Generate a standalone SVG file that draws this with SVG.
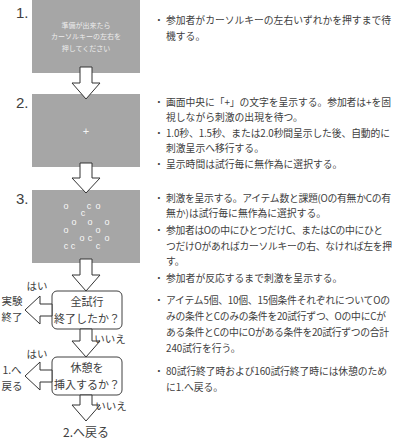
<svg xmlns="http://www.w3.org/2000/svg" width="400" height="440" viewBox="0 0 400 440">
<style>
.scr{fill:#a6a6a6}
.st{font-family:"Noto Sans CJK JP",sans-serif;font-size:7px;fill:#ececec;text-anchor:middle}
.stim{font-family:"Liberation Sans",sans-serif;font-size:9px;fill:#f8f8f8;text-anchor:middle}
.num{font-family:"Liberation Sans",sans-serif;font-size:15px;fill:#404040}
.dec{fill:#fff;stroke:#404040;stroke-width:1}
.dt{font-family:"Noto Sans CJK JP",sans-serif;font-size:11px;fill:#404040;text-anchor:middle}
.lab{font-family:"Noto Sans CJK JP",sans-serif;font-size:10.5px;fill:#404040;text-anchor:middle}
.desc{font-family:"Noto Sans CJK JP",sans-serif;font-size:9.8px;fill:#404040}
.arr{fill:#fff;stroke:#333;stroke-width:1}
</style>
<g id="step1">
<rect class="scr" x="32" y="0" width="108" height="73"/>
<text class="num" x="16" y="18">1.</text>
<text class="st" x="86" y="28">準備が出来たら</text>
<text class="st" x="86" y="39">カーソルキーの左右を</text>
<text class="st" x="86" y="51">押してください</text>
</g>
<g id="step2">
<rect class="scr" x="32" y="94" width="108" height="73"/>
<text class="num" x="16" y="108">2.</text>
<text x="86" y="135" style="font-family:'Liberation Sans',sans-serif;font-size:11px;fill:#f4f4f4;text-anchor:middle">+</text>
</g>
<g id="step3">
<rect class="scr" x="32" y="190" width="108" height="73"/>
<text class="num" x="16" y="204">3.</text>
<g class="stim">
<text x="66" y="209">o</text><text x="89" y="209">c</text><text x="98" y="209">o</text>
<text x="83" y="216">c</text>
<text x="74" y="225">o</text><text x="90" y="225">o</text><text x="107" y="225">o</text>
<text x="66" y="233">o</text><text x="98" y="233">o</text>
<text x="82" y="241">o</text><text x="90" y="241">c</text><text x="107" y="241">o</text>
<text x="66" y="249">c</text><text x="73" y="249">c</text><text x="98" y="249">c</text>
</g>
</g>
<g id="decision1">
<rect class="dec" x="52" y="291" width="70" height="38" rx="5"/>
<text class="dt" x="87" y="306">全試行</text>
<text class="dt" x="87" y="323">終了したか？</text>
</g>
<g id="decision2">
<rect class="dec" x="52" y="357" width="70" height="38" rx="5"/>
<text class="dt" x="87" y="372">休憩を</text>
<text class="dt" x="87" y="389">挿入するか？</text>
</g>
<g id="connectors">
<polygon class="arr" points="80,67 92,67 92,83 100,83 86,99 72,83 80,83"/>
<polygon class="arr" points="80,163 92,163 92,178 100,178 86,193 72,178 80,178"/>
<polygon class="arr" points="80,259 92,259 92,275 100,275 86,291 72,275 80,275"/>
<polygon class="arr" points="80,329 92,329 92,341 100,341 86,357 72,341 80,341"/>
<polygon class="arr" points="80,395 92,395 92,405 100,405 86,421 72,405 80,405"/>
<polygon class="arr" points="52,304 52,316 40,316 40,324 25,310 40,296 40,304"/>
<polygon class="arr" points="52,370 52,382 40,382 40,390 25,376 40,362 40,370"/>
</g>
<g id="labels">
<text class="lab" x="37" y="290">はい</text>
<text class="lab" x="12" y="305">実験</text>
<text class="lab" x="12" y="321">終了</text>
<text class="lab" x="110" y="343">いいえ</text>
<text class="lab" x="37" y="358">はい</text>
<text class="lab" x="12" y="374">1.へ</text>
<text class="lab" x="12" y="390">戻る</text>
<text class="lab" x="111" y="410">いいえ</text>
<text x="86" y="437" style="font-family:'Noto Sans CJK JP',sans-serif;font-size:12px;fill:#404040;text-anchor:middle">2.へ戻る</text>
</g>
<g id="descriptions" class="desc">
<text x="154" y="24">・</text>
<text x="166" y="24" textLength="225" lengthAdjust="spacing">参加者がカーソルキーの左右いずれかを押すまで待</text>
<text x="166" y="40">機する。</text>
<text x="154" y="106">・</text>
<text x="166" y="106" textLength="225" lengthAdjust="spacing">画面中央に「+」の文字を呈示する。参加者は+を固</text>
<text x="166" y="121">視しながら刺激の出現を待つ。</text>
<text x="154" y="137">・</text>
<text x="166" y="137" textLength="224" lengthAdjust="spacing">1.0秒、1.5秒、または2.0秒間呈示した後、自動的に</text>
<text x="166" y="152">刺激呈示へ移行する。</text>
<text x="154" y="168">・</text>
<text x="166" y="168">呈示時間は試行毎に無作為に選択する。</text>
<text x="154" y="202">・</text>
<text x="166" y="202" textLength="225" lengthAdjust="spacing">刺激を呈示する。アイテム数と課題(Oの有無かCの有</text>
<text x="166" y="217">無か)は試行毎に無作為に選択する。</text>
<text x="154" y="234">・</text>
<text x="166" y="234" textLength="217" lengthAdjust="spacing">参加者はOの中にひとつだけC、またはCの中にひと</text>
<text x="166" y="250" textLength="226" lengthAdjust="spacing">つだけOがあればカーソルキーの右、なければ左を押</text>
<text x="166" y="265">す。</text>
<text x="154" y="282">・</text>
<text x="166" y="282">参加者が反応するまで刺激を呈示する。</text>
<text x="154" y="304">・</text>
<text x="166" y="304" textLength="224" lengthAdjust="spacing">アイテム5個、10個、15個条件それぞれについてOの</text>
<text x="166" y="320" textLength="220" lengthAdjust="spacing">みの条件とCのみの条件を20試行ずつ、Oの中にCが</text>
<text x="166" y="336" textLength="223" lengthAdjust="spacing">ある条件とCの中にOがある条件を20試行ずつの合計</text>
<text x="166" y="352">240試行を行う。</text>
<text x="154" y="375">・</text>
<text x="166" y="375" textLength="221" lengthAdjust="spacing">80試行終了時および160試行終了時には休憩のため</text>
<text x="166" y="391">に1.へ戻る。</text>
</g>
</svg>
